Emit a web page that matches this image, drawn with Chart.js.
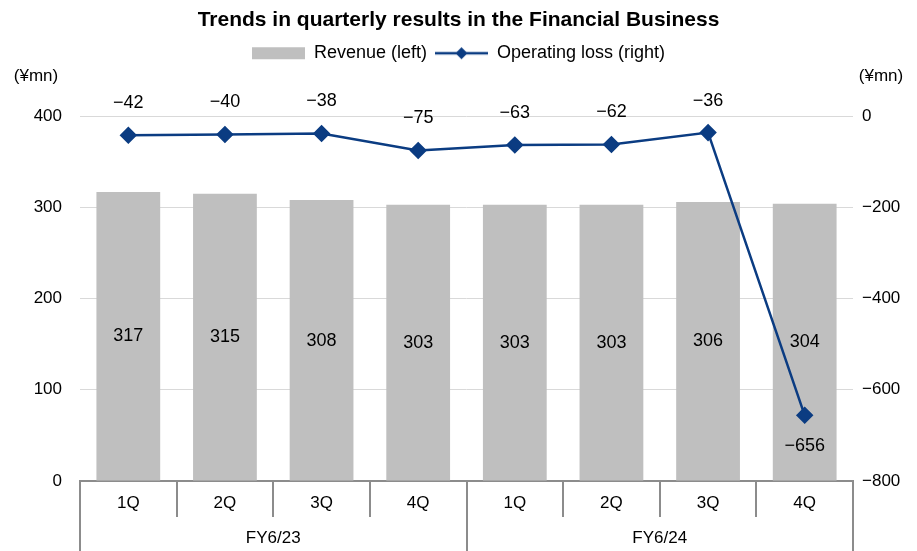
<!DOCTYPE html>
<html lang="en">
  <head>
    <meta charset="UTF-8" />
    <title>Trends in quarterly results in the Financial Business</title>
    <script src="https://cdn.jsdelivr.net/npm/chart.js"></script>
    <style>
      body { margin: 0; background: #fff; }
      #chartContainer { width: 917px; height: 551px; }
    </style>
  </head>
  <body>
    <div id="chartContainer">
      <canvas id="finChart"></canvas>
    </div>

    <script>
      // Data
      const quarters = ["1Q", "2Q", "3Q", "4Q", "1Q", "2Q", "3Q", "4Q"];
      const fiscalYears = ["FY6/23", "FY6/24"];
      const revenue = [317, 315, 308, 303, 303, 303, 306, 304];
      const operatingLoss = [-42, -40, -38, -75, -63, -62, -36, -656];

      const FONT = "'Liberation Sans', Arial, sans-serif";
      const BAR_COLOR = "#bfbfbf";
      const LINE_COLOR = "#0b3c82";
      const AXIS_COLOR = "#8c8c8c";

      const minus = (v) => String(v).replace("-", "\u2212");

      // Legend icons
      function makeIcon(kind) {
        const c = document.createElement("canvas");
        c.width = 53;
        c.height = 16;
        const g = c.getContext("2d");
        if (kind === "bar") {
          g.fillStyle = BAR_COLOR;
          g.fillRect(0, 2, 53, 12);
        } else {
          g.strokeStyle = LINE_COLOR;
          g.lineWidth = 2.5;
          g.beginPath();
          g.moveTo(0, 8);
          g.lineTo(53, 8);
          g.stroke();
          g.fillStyle = LINE_COLOR;
          g.beginPath();
          g.moveTo(26.5, 2);
          g.lineTo(32.5, 8);
          g.lineTo(26.5, 14);
          g.lineTo(20.5, 8);
          g.closePath();
          g.fill();
        }
        return c;
      }
      const barIcon = makeIcon("bar");
      const lineIcon = makeIcon("line");

      // extra room under the legend (for the unit labels)
      const legendMargin = {
        id: "legendMargin",
        beforeInit(chart) {
          const fit = chart.legend.fit;
          chart.legend.fit = function () {
            fit.bind(chart.legend)();
            this.height += 44;
          };
        },
      };

      // Value labels, unit labels and the two-level category axis
      const decorations = {
        id: "decorations",
        afterDatasetsDraw(chart) {
          const ctx = chart.ctx;
          ctx.save();
          ctx.font = "18px " + FONT;
          ctx.fillStyle = "#000";
          ctx.textAlign = "center";
          ctx.textBaseline = "middle";

          const yL = chart.scales.y;
          chart.getDatasetMeta(0).data.forEach((bar, i) => {
            const yMid = (bar.y + yL.getPixelForValue(0)) / 2;
            ctx.fillText(minus(revenue[i]), bar.x, yMid);
          });
          chart.getDatasetMeta(1).data.forEach((pt, i) => {
            const below = operatingLoss[i] < -300;
            ctx.fillText(minus(operatingLoss[i]), pt.x, below ? pt.y + 31 : pt.y - 32);
          });

          // unit labels
          ctx.font = "17px " + FONT;
          const top = chart.chartArea.top;
          ctx.fillText("(¥mn)", 36, top - 40);
          ctx.fillText("(¥mn)", 881, top - 40);

          // category axis boxes
          const x = chart.scales.x;
          const w = (x.right - x.left) / quarters.length;
          const axTop = x.top;
          ctx.strokeStyle = AXIS_COLOR;
          ctx.lineWidth = 2;
          for (let i = 0; i <= quarters.length; i++) {
            const bx = Math.round(x.left + i * w);
            const end = i % 4 === 0 ? chart.height : axTop + 36;
            ctx.beginPath();
            ctx.moveTo(bx, axTop);
            ctx.lineTo(bx, end);
            ctx.stroke();
          }
          quarters.forEach((q, i) => {
            ctx.fillText(q, x.getPixelForValue(i), axTop + 22);
          });
          fiscalYears.forEach((fy, j) => {
            ctx.fillText(fy, x.left + (j * 4 + 2) * w, axTop + 57);
          });
          ctx.restore();
        },
      };

      const ctx = document.getElementById("finChart").getContext("2d");
      const finChart = new Chart(ctx, {
        data: {
          labels: quarters,
          datasets: [
            {
              type: "bar",
              label: "Revenue (left)",
              data: revenue,
              backgroundColor: BAR_COLOR,
              yAxisID: "y",
              categoryPercentage: 1,
              barPercentage: 0.66,
              order: 1,
            },
            {
              type: "line",
              label: "Operating loss (right)",
              data: operatingLoss,
              borderColor: LINE_COLOR,
              backgroundColor: LINE_COLOR,
              borderWidth: 2.5,
              pointStyle: "rectRot",
              pointRadius: 7,
              pointHoverRadius: 7,
              yAxisID: "y1",
              tension: 0,
              order: 0,
            },
          ],
        },
        options: {
          responsive: true,
          maintainAspectRatio: false,
          animation: false,
          layout: { padding: { top: 4, left: 0, right: 0, bottom: 0 } },
          plugins: {
            title: {
              display: true,
              text: "Trends in quarterly results in the Financial Business",
              color: "#000",
              font: { family: FONT, size: 21, weight: "bold" },
              padding: { top: 4, bottom: 3 },
            },
            legend: {
              position: "top",
              labels: {
                usePointStyle: true,
                pointStyleWidth: 53,
                color: "#000",
                font: { family: FONT, size: 18 },
                padding: 8,
                generateLabels(chart) {
                  const items = Chart.defaults.plugins.legend.labels.generateLabels(chart);
                  items.sort((a, b) => a.datasetIndex - b.datasetIndex);
                  items.forEach((it) => {
                    it.pointStyle = it.datasetIndex === 0 ? barIcon : lineIcon;
                  });
                  return items;
                },
              },
            },
            tooltip: { enabled: false },
          },
          scales: {
            x: {
              grid: { display: false },
              border: { color: AXIS_COLOR, width: 2 },
              ticks: { display: false },
              afterFit(scale) { scale.height = 70; },
            },
            y: {
              position: "left",
              min: 0,
              max: 400,
              ticks: {
                stepSize: 100,
                color: "#000",
                font: { family: FONT, size: 17 },
                padding: 18,
              },
              grid: { color: "#d9d9d9", drawTicks: false },
              border: { display: false },
              afterFit(scale) { scale.width = 80; },
            },
            y1: {
              position: "right",
              min: -800,
              max: 0,
              ticks: {
                stepSize: 200,
                color: "#000",
                font: { family: FONT, size: 17 },
                padding: 9,
                callback: (v) => minus(v),
              },
              grid: { drawOnChartArea: false, drawTicks: false },
              border: { display: false },
              afterFit(scale) { scale.width = 64; },
            },
          },
        },
        plugins: [legendMargin, decorations],
      });
    </script>
  </body>
</html>
